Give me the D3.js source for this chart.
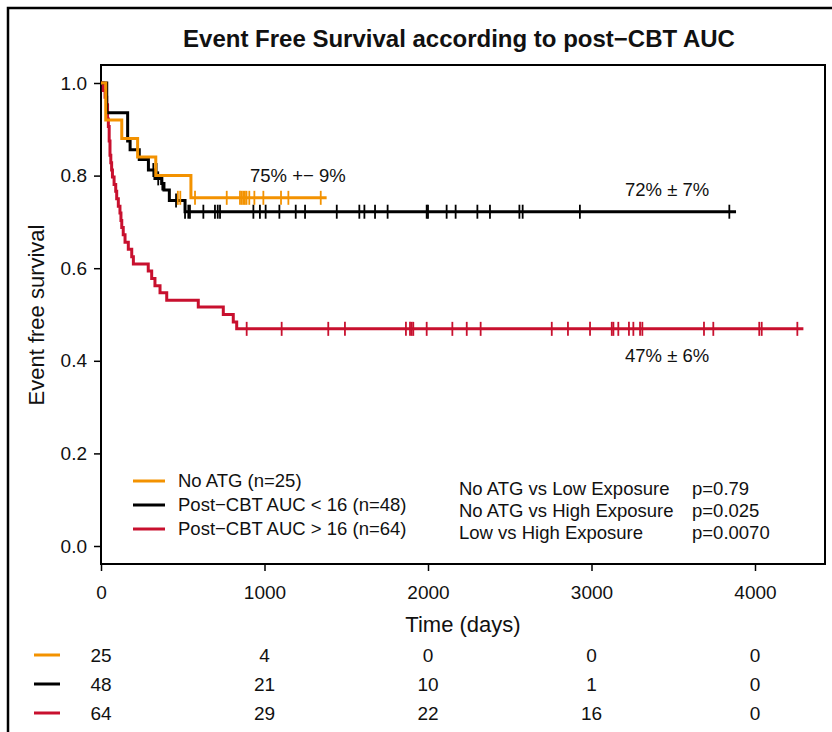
<!DOCTYPE html>
<html><head><meta charset="utf-8">
<script src="https://cdn.jsdelivr.net/npm/d3@7"></script>
<style>
body{margin:0;background:#fff}
text{font-family:"Liberation Sans",Arial,sans-serif;fill:#111}
</style></head><body>
<svg id="c" width="832" height="732"></svg>
<script>
// step curves: [time, survival]
const noAtgSteps = [[0,1],[29,0.92],[127,0.88],[224,0.84],[335,0.80],[550,0.752]];
const noAtgCens = [470,485,575,769,850,860,870,880,890,907,938,993,1101,1146,1344];
const noAtgEnd = 1380;
const lowSteps = [[0,1],[35,0.936],[163,0.875],[178,0.856],[234,0.835],[290,0.812],[330,0.794],[371,0.783],[385,0.769],[418,0.746],[514,0.722]];
const lowCens = [[320,0.812],[340,0.812],[350,0.794],[375,0.783],[459,0.746],[514],[534],[544],[626],[697],[714],[728],[932],[972],[1007],[1091],[1191],[1248],[1442],[1580],[1611],[1676],[1753],[1992],[2000],[2114],[2169],[2302],[2379],[2559],[2579],[2929],[3843]];
const lowEnd = 3884;
const highSteps = [[0,1],[14,0.984],[25,0.969],[35,0.953],[40,0.922],[45,0.906],[50,0.875],[55,0.844],[60,0.828],[65,0.812],[70,0.797],[80,0.781],[90,0.766],[96,0.75],[106,0.734],[116,0.719],[122,0.703],[127,0.688],[136,0.672],[147,0.656],[167,0.641],[188,0.625],[198,0.609],[289,0.594],[310,0.578],[330,0.562],[361,0.547],[402,0.531],[595,0.516],[748,0.5],[809,0.484],[830,0.469]];
const highCens = [891,1105,1390,1492,1865,1890,1900,1910,1992,2149,2237,2322,2757,2856,2991,3124,3134,3164,3229,3256,3297,3311,3688,3745,4026,4041,4259];
const highEnd = 4296;
const xTicks = [0,1000,2000,3000,4000];
const yTicks = [0,0.2,0.4,0.6,0.8,1.0];
const atRisk = [[25,4,0,0,0],[48,21,10,1,0],[64,29,22,16,0]];
const groups = ["No ATG (n=25)","Post\u2212CBT AUC < 16 (n=48)","Post\u2212CBT AUC > 16 (n=64)"];
const colors = ["#f39200","#000000","#c8102e"];
const pLabels = ["No ATG vs Low Exposure","No ATG vs High Exposure","Low vs High Exposure"];
const pValues = ["p=0.79","p=0.025","p=0.0070"];

const svg = d3.select("#c");
const x = d3.scaleLinear().domain([0,4000]).range([101,755]);
const y = d3.scaleLinear().domain([0,1]).range([546,83]);

// figure frame
svg.append("path").attr("d","M8,732V8H832").attr("fill","none").attr("stroke","#000").attr("stroke-width",2.5);
svg.append("rect").attr("x",101).attr("y",65).attr("width",724).attr("height",499)
  .attr("fill","none").attr("stroke","#000").attr("stroke-width",2);

svg.append("text").attr("x",459).attr("y",47).attr("text-anchor","middle")
  .attr("font-size",24).attr("font-weight","bold").text("Event Free Survival according to post\u2212CBT AUC");

// axes
const xa = svg.append("g").attr("transform","translate(0,564)")
  .call(d3.axisBottom(x).tickValues(xTicks).tickSize(7).tickFormat(d3.format("d")));
xa.select(".domain").remove();
xa.selectAll("line").attr("stroke-width",1.5);
xa.selectAll("text").attr("font-size",19).attr("dy","1.3em");
const ya = svg.append("g").attr("transform","translate(101,0)")
  .call(d3.axisLeft(y).tickValues(yTicks).tickSize(7).tickFormat(d3.format(".1f")));
ya.select(".domain").remove();
ya.selectAll("line").attr("stroke-width",1.5);
ya.selectAll("text").attr("font-size",19).attr("x",-14);

svg.append("text").attr("x",463).attr("y",632).attr("text-anchor","middle")
  .attr("font-size",22).text("Time (days)");
svg.append("text").attr("transform","translate(44,315) rotate(-90)")
  .attr("text-anchor","middle").attr("font-size",22).text("Event free survival");

function stepPath(steps, end){
  const pts=[];
  steps.forEach((s,i)=>{ if(i>0) pts.push([s[0],steps[i-1][1]]); pts.push(s); });
  pts.push([end, steps[steps.length-1][1]]);
  return d3.line().x(d=>x(d[0])).y(d=>y(d[1]))(pts);
}
function drawCurve(steps,cens,end,col){
  const last = steps[steps.length-1][1];
  svg.append("path").attr("d",stepPath(steps,end)).attr("fill","none").attr("stroke",col).attr("stroke-width",3);
  cens.forEach(c=>{
    const t = Array.isArray(c)?c[0]:c, v = Array.isArray(c)&&c.length>1?c[1]:last;
    svg.append("line").attr("x1",x(t)).attr("x2",x(t)).attr("y1",y(v)-7).attr("y2",y(v)+7)
      .attr("stroke",col).attr("stroke-width",1.8);
  });
}
drawCurve(highSteps,highCens,highEnd,colors[2]);
drawCurve(lowSteps,lowCens,lowEnd,colors[1]);
drawCurve(noAtgSteps,noAtgCens,noAtgEnd,colors[0]);

svg.append("text").attr("x",250).attr("y",182).attr("font-size",18.5).text("75% +\u2212 9%");
svg.append("text").attr("x",625).attr("y",196).attr("font-size",18.5).text("72% \u00b1 7%");
svg.append("text").attr("x",625).attr("y",362).attr("font-size",18.5).text("47% \u00b1 6%");

// legend
groups.forEach((g,i)=>{
  const yy = 481+i*24;
  svg.append("line").attr("x1",133).attr("x2",165).attr("y1",yy).attr("y2",yy).attr("stroke",colors[i]).attr("stroke-width",3);
  svg.append("text").attr("x",178).attr("y",yy+6).attr("font-size",18.5).text(g);
});
pLabels.forEach((p,i)=>{
  const yy = 495+i*22;
  svg.append("text").attr("x",459).attr("y",yy).attr("font-size",18.5).text(p);
  svg.append("text").attr("x",692).attr("y",yy).attr("font-size",18.5).text(pValues[i]);
});

// numbers at risk
atRisk.forEach((row,i)=>{
  const yy = 655+i*29;
  svg.append("line").attr("x1",34).attr("x2",60).attr("y1",yy).attr("y2",yy).attr("stroke",colors[i]).attr("stroke-width",3);
  row.forEach((n,j)=>{
    svg.append("text").attr("x",x(xTicks[j])).attr("y",yy+7)
      .attr("text-anchor","middle").attr("font-size",19).text(n);
  });
});
</script></body></html>
